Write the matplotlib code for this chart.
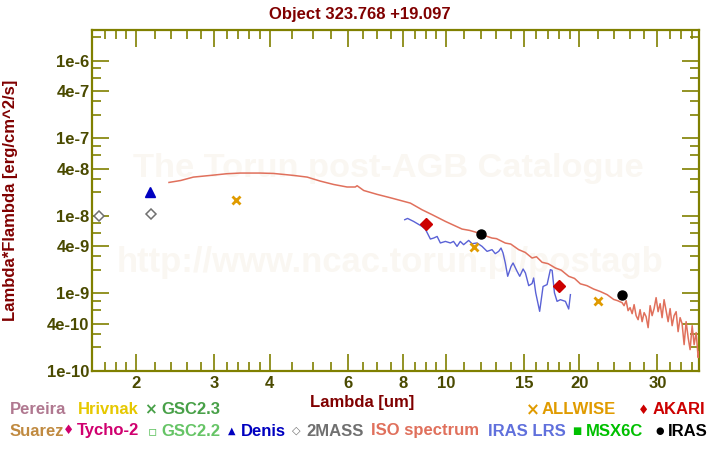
import matplotlib
matplotlib.use("Agg")
import matplotlib.pyplot as plt
from matplotlib.ticker import FixedLocator, FixedFormatter, NullFormatter

# ---------------- data ----------------
iso_wl = [2.37, 2.52, 2.69, 2.94, 3.20, 3.43, 3.81, 4.08, 4.53, 4.86, 5.20, 5.58,
          5.98, 6.24, 6.30, 6.52, 6.99, 7.49, 7.89, 8.31, 8.83, 9.30, 9.97, 10.87,
          11.3, 11.85, 12.2, 12.70, 13.0, 13.61, 14.0, 14.59, 15.1, 15.64, 16.0,
          16.48, 17.0, 17.66, 18.2, 18.92, 19.5, 20.10, 20.8, 21.54, 22.3, 23.10,
          23.9, 24.4,
          24.97, 25.23, 25.50, 25.76, 26.03, 26.31, 26.58, 26.86, 27.14, 27.42,
          27.71, 28.00, 28.29, 28.59, 28.89, 29.19, 29.49, 29.80, 30.11, 30.43,
          30.74, 31.06, 31.39, 31.72, 32.05, 32.39, 32.72, 33.07, 33.41, 33.76,
          34.11, 34.47, 34.83, 35.20, 35.56, 35.94, 36.31, 36.69, 37.08, 37.27]
iso_flux = [2.68e-8, 2.84e-8, 3.14e-8, 3.30e-8, 3.47e-8, 3.54e-8, 3.54e-8, 3.50e-8,
            3.30e-8, 3.14e-8, 2.79e-8, 2.52e-8, 2.34e-8, 2.34e-8, 2.43e-8, 2.11e-8,
            1.88e-8, 1.70e-8, 1.57e-8, 1.45e-8, 1.19e-8, 1.03e-8, 8.42e-9, 6.71e-9,
            6.45e-9, 5.97e-9, 5.55e-9, 5.14e-9, 5.05e-9, 4.43e-9, 4.30e-9, 3.64e-9,
            3.35e-9, 2.84e-9, 2.95e-9, 2.50e-9, 2.40e-9, 2.11e-9, 1.98e-9, 1.65e-9,
            1.55e-9, 1.32e-9, 1.25e-9, 1.13e-9, 1.05e-9, 9.57e-10, 8.30e-10,
            8.00e-10,
            7.54e-10, 6.90e-10, 8.00e-10, 5.95e-10, 6.51e-10, 5.44e-10, 7.11e-10,
            5.13e-10, 4.55e-10, 6.13e-10, 4.29e-10, 5.61e-10, 4.98e-10, 3.59e-10,
            6.90e-10, 5.13e-10, 6.32e-10, 8.75e-10, 5.77e-10, 7.33e-10, 4.83e-10,
            8.24e-10, 5.95e-10, 4.29e-10, 6.32e-10, 3.81e-10, 5.13e-10, 5.77e-10,
            3.19e-10, 4.83e-10, 4.04e-10, 2.17e-10, 4.29e-10, 2.67e-10, 1.87e-10,
            3.81e-10, 2.17e-10, 3.10e-10, 1.48e-10, 1.76e-10]

lrs_wl = [8.07, 8.19, 8.45, 8.83, 8.98, 9.22, 9.38, 9.55, 9.71, 9.97, 10.23, 10.40,
          10.59, 10.77, 10.96, 11.25, 11.45, 11.75, 12.06, 12.38, 12.70, 12.92,
          13.15, 13.31, 13.45, 13.61, 13.78, 14.02, 14.17, 14.47, 14.67, 14.93,
          15.11, 15.37, 15.64, 15.77, 15.94, 16.27, 16.56, 16.91, 17.20, 17.36,
          17.57, 17.81, 18.12, 18.60, 18.92, 19.09]
lrs_flux = [8.86e-9, 9.20e-9, 8.42e-9, 7.26e-9, 6.72e-9, 4.99e-9, 5.14e-9, 5.39e-9,
            4.44e-9, 4.65e-9, 4.44e-9, 4.65e-9, 4.01e-9, 4.65e-9, 4.22e-9, 4.79e-9,
            4.34e-9, 4.44e-9, 4.01e-9, 3.46e-9, 3.64e-9, 3.23e-9, 3.46e-9, 3.82e-9,
            3.30e-9, 2.45e-9, 1.65e-9, 2.21e-9, 2.45e-9, 1.91e-9, 1.65e-9, 2.05e-9,
            1.82e-9, 1.25e-9, 1.33e-9, 1.57e-9, 1.01e-9, 5.83e-10, 1.22e-9, 1.29e-9,
            2.01e-9, 1.97e-9, 1.01e-9, 7.84e-10, 8.24e-10, 7.84e-10, 6.25e-10, 9.57e-10]

twomass_wl = [1.65, 2.16]
twomass_flux = [9.97e-9, 1.05e-8]
denis_wl = [2.15]
denis_flux = [2.03e-8]
allwise_wl = [3.35, 11.56, 22.09]
allwise_flux = [1.59e-8, 3.90e-9, 7.85e-10]
akari_wl = [9.0, 18.0]
akari_flux = [7.75e-9, 1.23e-9]
iras_wl = [12.0, 25.0]
iras_flux = [5.80e-9, 9.40e-10]

x_major = [2, 3, 4, 6, 8, 10, 15, 20, 30]
x_minor = [1.7, 1.8, 1.9, 2.2, 2.4, 2.6, 2.8, 3.2, 3.4, 3.6, 3.8, 4.5, 5, 5.5,
           6.5, 7, 7.5, 8.5, 9, 9.5, 11, 12, 13, 14, 16, 17, 18, 19, 22, 24, 26,
           28, 32, 34, 36]
y_major = [1e-10, 4e-10, 1e-9, 4e-9, 1e-8, 4e-8, 1e-7, 4e-7, 1e-6]
y_major_labels = ["1e-10", "4e-10", "1e-9", "4e-9", "1e-8", "4e-8", "1e-7", "4e-7", "1e-6"]
y_minor = [2e-10, 3e-10, 6e-10, 8e-10, 2e-9, 3e-9, 6e-9, 8e-9, 2e-8, 3e-8, 6e-8,
           8e-8, 2e-7, 3e-7, 6e-7, 8e-7, 2e-6]

title = "Object 323.768 +19.097"

# ---------------- style ----------------
FONT = ["Liberation Sans", "DejaVu Sans"]
plt.rcParams["font.family"] = FONT
plt.rcParams["font.weight"] = "bold"
OLIVE = "#808000"
TICKTXT = "#4a4a00"
DARKRED = "#800000"
W, H = 720, 450

fig = plt.figure(figsize=(7.2, 4.5), dpi=100)
ax = fig.add_axes([92.3 / W, 1 - 370.7 / H, (699.3 - 92.3) / W, (370.7 - 29.7) / H])
ax.set_zorder(2)
ax.patch.set_alpha(0)
ax.set_xscale("log")
ax.set_yscale("log")
ax.set_xlim(1.591, 37.3)
ax.set_ylim(1e-10, 2.5e-6)


def fx(x, y):
    return (x / W, 1 - y / H)


# watermark (behind the axes)
WMC = "#faf7f2"
wm1 = fig.text(*fx(133, 177), "The Torun post-AGB Catalogue", color=WMC,
               fontsize=26, fontweight="bold", ha="left", va="baseline", zorder=0)
wm2 = fig.text(*fx(117, 272), "http://www.ncac.torun.pl/postagb", color=WMC,
               fontsize=26, fontweight="bold", ha="left", va="baseline", zorder=0)
fig.canvas.draw()
r = fig.canvas.get_renderer()
for t, target in ((wm1, 512), (wm2, 548)):
    w = t.get_window_extent(r).width
    t.set_fontsize(26 * target / w)

# series
ax.plot(iso_wl, iso_flux, color="#e0705c", lw=1.1, zorder=3)
ax.plot(lrs_wl, lrs_flux, color="#5a62d6", lw=1.0, zorder=3)
ax.plot(twomass_wl, twomass_flux, ls="none", marker="D", ms=5.5, mfc="white",
        mec="#707070", mew=1.1, zorder=4)
ax.plot(denis_wl, denis_flux, ls="none", marker="^", ms=6.5, color="#0000c0", zorder=4)
ax.plot(allwise_wl, allwise_flux, ls="none", marker="x", ms=5.5, mew=2.0,
        color="#e09b00", zorder=4)
ax.plot(akari_wl, akari_flux, ls="none", marker="D", ms=6, color="#cc0000", zorder=4)
ax.plot(iras_wl, iras_flux, ls="none", marker="o", ms=6.5, color="black", zorder=4)

# ticks
ax.xaxis.set_major_locator(FixedLocator(x_major))
ax.xaxis.set_major_formatter(FixedFormatter([str(v) for v in x_major]))
ax.xaxis.set_minor_locator(FixedLocator(x_minor))
ax.xaxis.set_minor_formatter(NullFormatter())
ax.yaxis.set_major_locator(FixedLocator(y_major))
ax.yaxis.set_major_formatter(FixedFormatter(y_major_labels))
ax.yaxis.set_minor_locator(FixedLocator(y_minor))
ax.yaxis.set_minor_formatter(NullFormatter())
ax.tick_params(which="both", direction="in", top=True, right=True, color=OLIVE,
               width=1.2, labelcolor=TICKTXT, labelsize=12)
ax.tick_params(which="major", length=12.3)
ax.tick_params(which="minor", length=6.2)
ax.tick_params(axis="x", which="major", pad=4)
ax.tick_params(axis="y", which="major", pad=2)
for lab in ax.get_xticklabels() + ax.get_yticklabels():
    lab.set_fontweight("bold")
for s in ax.spines.values():
    s.set_color(OLIVE)
    s.set_linewidth(1.6)

# title and axis labels
fig.text(*fx(360, 15), title, color=DARKRED, fontsize=12, fontweight="bold",
         ha="center", va="center")
fig.text(*fx(362, 403), "Lambda [um]", color=DARKRED, fontsize=12,
         fontweight="bold", ha="center", va="center")
fig.text(*fx(11, 200), "Lambda*Flambda [erg/cm^2/s]", color=DARKRED, fontsize=12,
         fontweight="bold", ha="center", va="center", rotation=90)

# legend rows
legend_items = [
    # (symbol, symbol_x, label, label_x, row_y, color, symbol_size)
    (None, 0, "Pereira", 10, 410, "#b07890", 0),
    (None, 0, "Hrivnak", 78, 410, "#e6c800", 0),
    ("\u00d7", 150, "GSC2.3", 161, 410, "#48a048", 11),
    ("\u00d7", 533, "ALLWISE", 542, 410, "#e09b00", 12),
    ("\u2666", 644, "AKARI", 653, 410, "#cc0000", 9),
    (None, 0, "Suarez", 10, 431, "#c08a40", 0),
    ("\u2666", 69, "Tycho-2", 77, 431, "#d0006f", 9),
    ("\u25ab", 152, "GSC2.2", 161, 431, "#66c466", 10),
    ("\u25b2", 232, "Denis", 241, 431, "#0000c0", 7),
    ("\u25c7", 296, "2MASS", 306, 431, "#707070", 8),
    (None, 0, "ISO spectrum", 371, 431, "#e0705c", 0),
    (None, 0, "IRAS LRS", 488, 431, "#6070dc", 0),
    ("\u25a0", 577, "MSX6C", 586, 431, "#00c000", 7),
    ("\u25cf", 660, "IRAS", 668, 431, "#000000", 7),
]
for sym, sx, lab, lx, ry, col, ssz in legend_items:
    if sym is not None:
        fig.text(*fx(sx, ry), sym, color=col, fontsize=ssz, ha="center",
                 va="center", family=["DejaVu Sans"], fontweight="bold")
    fig.text(*fx(lx, ry), lab, color=col, fontsize=12, fontweight="bold",
             ha="left", va="center")

fig.savefig("out.png", dpi=100, facecolor="white")
